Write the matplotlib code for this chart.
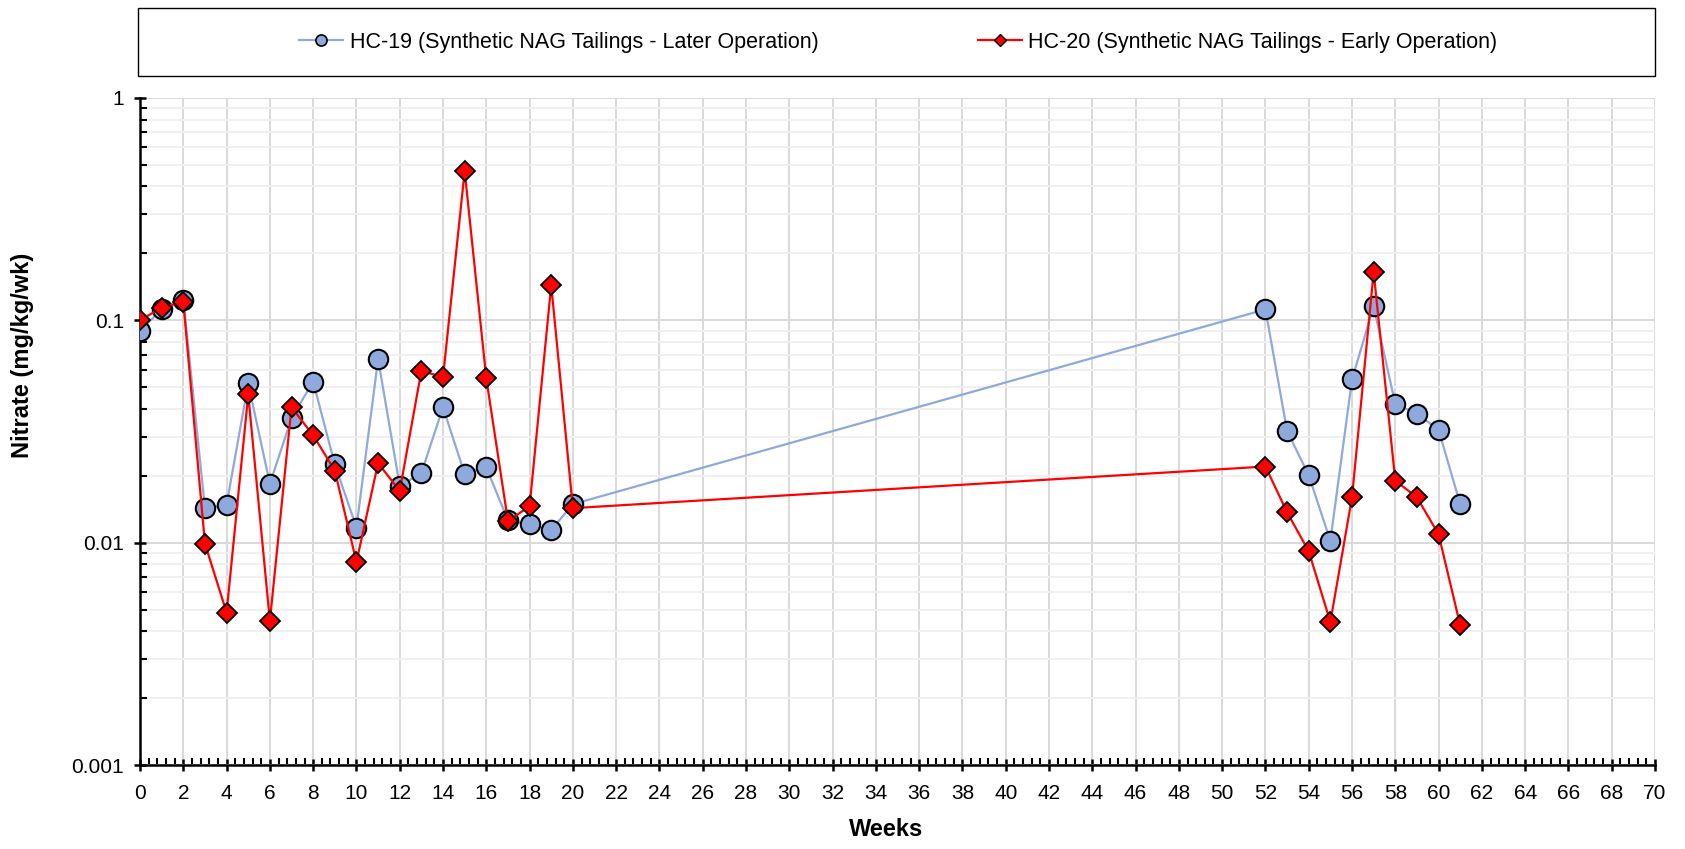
import matplotlib
matplotlib.use("Agg")
import matplotlib.pyplot as plt
from matplotlib.lines import Line2D
from matplotlib.patches import Rectangle
from matplotlib.ticker import FixedLocator, MultipleLocator, NullFormatter

plt.rcParams["font.family"] = ["Liberation Sans", "DejaVu Sans"]

# --- data ---
weeks = [0, 1, 2, 3, 4, 5, 6, 7, 8, 9, 10, 11, 12, 13, 14, 15, 16, 17, 18, 19, 20,
         52, 53, 54, 55, 56, 57, 58, 59, 60, 61]
hc19 = [0.090, 0.112, 0.124, 0.0143, 0.0148, 0.052, 0.0184, 0.0363, 0.053, 0.0225,
        0.0117, 0.067, 0.018, 0.0206, 0.0406, 0.0204, 0.0218, 0.0126, 0.0121, 0.0114,
        0.0149,
        0.112, 0.0318, 0.0201, 0.0102, 0.0542, 0.1156, 0.042, 0.038, 0.0322, 0.0149]
hc20 = [0.100, 0.114, 0.121, 0.0099, 0.00485, 0.0464, 0.00444, 0.0406, 0.0304, 0.0211,
        0.00818, 0.0228, 0.0171, 0.0593, 0.0555, 0.469, 0.0548, 0.0125, 0.0146, 0.144,
        0.0143,
        0.022, 0.0137, 0.00915, 0.0044, 0.016, 0.165, 0.019, 0.016, 0.0109, 0.00425]
label19 = "HC-19 (Synthetic NAG Tailings - Later Operation)"
label20 = "HC-20 (Synthetic NAG Tailings - Early Operation)"
ytick_vals = [0.001, 0.01, 0.1, 1]
ytick_labels = ["0.001", "0.01", "0.1", "1"]

blue = "#8EA9DB"
red = "#FF0000"

fig = plt.figure(figsize=(16.85, 8.49), dpi=100)
ax = fig.add_axes([0.0831, 0.0989, 0.8991, 0.7857])

ax.plot(weeks, hc19, color=blue, linewidth=1.6, marker="o", markersize=14,
        markerfacecolor=blue, markeredgecolor="black", markeredgewidth=1.5, zorder=3)
ax.plot(weeks, hc20, color=red, linewidth=1.6, marker="D", markersize=10,
        markerfacecolor=red, markeredgecolor="black", markeredgewidth=1.3, zorder=4)

ax.set_yscale("log")
ax.set_ylim(0.001, 1)
ax.set_xlim(0, 70)

ax.xaxis.set_major_locator(MultipleLocator(2))
ax.xaxis.set_minor_locator(MultipleLocator(0.4))
ax.yaxis.set_major_locator(FixedLocator(ytick_vals))
ax.set_yticklabels(ytick_labels)
ax.yaxis.set_minor_locator(FixedLocator(
    [m * 10.0 ** e for e in (-3, -2, -1) for m in range(2, 10)]))
ax.yaxis.set_minor_formatter(NullFormatter())

ax.grid(True, which="major", axis="both", color="#D9D9D9", linewidth=1.4, zorder=0)
ax.grid(True, which="minor", axis="y", color="#F0F0F0", linewidth=1.4, zorder=0)
ax.set_axisbelow(True)

for s in ("top", "right"):
    ax.spines[s].set_visible(False)
for s in ("left", "bottom"):
    ax.spines[s].set_linewidth(1.8)

ax.tick_params(axis="both", which="major", direction="inout", length=9, width=1.8,
               labelsize=15, colors="black")
ax.tick_params(axis="x", which="major", pad=9)
ax.tick_params(axis="y", which="major", pad=7)
ax.tick_params(axis="both", which="minor", direction="in", length=5, width=1.5)

ax.set_xlabel("Weeks", fontsize=17, fontweight="bold")
ax.xaxis.set_label_coords(886 / 1685, 1 - 818 / 849, transform=fig.transFigure)
ax.set_ylabel("Nitrate (mg/kg/wk)", fontsize=17, fontweight="bold")
ax.yaxis.set_label_coords(34 / 1685, 1 - 355 / 849, transform=fig.transFigure)

# legend box across the top
fig.patches.append(Rectangle((0.0819, 0.9105), 0.9003, 0.0801, transform=fig.transFigure,
                             fill=False, edgecolor="black", linewidth=1.0))
handles = [
    Line2D([], [], color=blue, linewidth=1.6, marker="o", markersize=8,
           markerfacecolor=blue, markeredgecolor="black", markeredgewidth=1.2),
    Line2D([], [], color=red, linewidth=1.6, marker="D", markersize=6,
           markerfacecolor=red, markeredgecolor="black", markeredgewidth=1.0),
]
fig.legend(handles, [label19, label20], loc="center", bbox_to_anchor=(0.533, 0.9505),
           ncol=2, frameon=False, fontsize=15.5, handlelength=2.05, handletextpad=0.3,
           columnspacing=7.4)

fig.savefig("out.png", dpi=100)
